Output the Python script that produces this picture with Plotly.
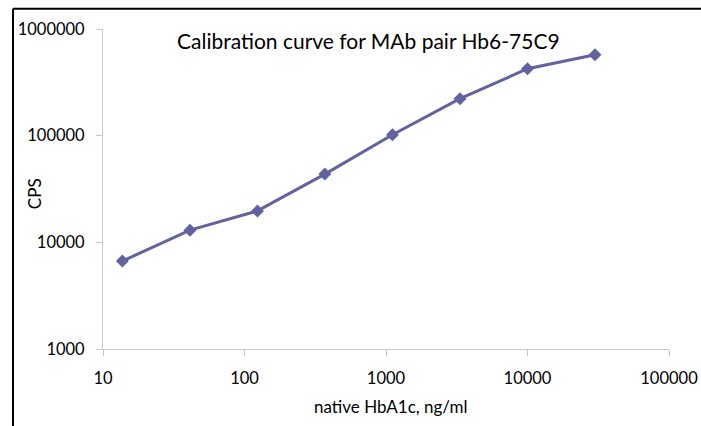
import plotly.graph_objects as go

concentration = [13.7, 41.2, 123.5, 370, 1111, 3333, 10000, 30000]
cps = [6670, 13000, 19700, 43600, 101900, 222000, 424000, 574000]
x_ticks = [10, 100, 1000, 10000, 100000]
y_ticks = [1000, 10000, 100000, 1000000]

OFF = 0  # body margin removed via post_script
W, H = 701 - OFF, 426 - OFF
# plot area in page pixels
PL, PR, PT, PB = 102.7, 668.7, 29.3, 349.0
ml, mr, mt, mb = PL - OFF, W - (PR - OFF), PT - OFF, H - (PB - OFF)
pw, ph = PR - PL, PB - PT

def px_x(p):  # page px -> paper x
    return (p - PL) / pw

def px_y(p):  # page px -> paper y
    return (PB - p) / ph

FONT = "Lato"
line_col = "#6262A0"
axis_col = "#C8C8C8"

fig = go.Figure()
fig.add_trace(go.Scatter(
    x=concentration, y=cps, mode="lines+markers",
    line=dict(color=line_col, width=3),
    marker=dict(symbol="diamond", size=10, color=line_col),
    showlegend=False, hoverinfo="skip",
))

fig.update_layout(
    width=W, height=H,
    margin=dict(l=ml, r=mr, t=mt, b=mb, autoexpand=False),
    paper_bgcolor="white", plot_bgcolor="white",
    font=dict(family=FONT, color="black", size=16.5),
    xaxis=dict(type="log", range=[1, 5], tickvals=x_ticks,
               ticktext=[str(v) for v in x_ticks],
               showgrid=False, zeroline=False, showline=True,
               linecolor=axis_col, linewidth=1, ticks="outside",
               tickcolor=axis_col, ticklen=6, tickwidth=1,
               ticklabelstandoff=8,
               tickfont=dict(size=16.5, family=FONT)),
    yaxis=dict(type="log", range=[3, 6], tickvals=y_ticks,
               ticktext=[str(v) for v in y_ticks],
               showgrid=False, zeroline=False, showline=True,
               linecolor=axis_col, linewidth=1, ticks="outside",
               tickcolor=axis_col, ticklen=6, tickwidth=1,
               ticklabelstandoff=8,
               tickfont=dict(size=16.5, family=FONT)),
    annotations=[
        dict(text="Calibration curve for MAb pair Hb6-75C9",
             xref="paper", yref="paper", x=px_x(368), y=px_y(41),
             xanchor="center", yanchor="middle", showarrow=False,
             font=dict(size=21, family=FONT, color="black")),
        dict(text="native HbA1c, ng/ml",
             xref="paper", yref="paper", x=px_x(391), y=px_y(406),
             xanchor="center", yanchor="middle", showarrow=False,
             font=dict(size=17, family=FONT, color="black")),
        dict(text="CPS", textangle=-90,
             xref="paper", yref="paper", x=px_x(35), y=px_y(194),
             xanchor="center", yanchor="middle", showarrow=False,
             font=dict(size=17, family=FONT, color="black")),
    ],
    shapes=[
        dict(type="line", xref="paper", yref="paper",
             x0=px_x(12.7), x1=px_x(720), y0=px_y(9), y1=px_y(9),
             line=dict(color="black", width=2)),
        dict(type="line", xref="paper", yref="paper",
             x0=px_x(12.7), x1=px_x(12.7), y0=px_y(9), y1=px_y(440),
             line=dict(color="black", width=2)),
    ],
)

fig.write_html(
    "out.html",
    config={"displayModeBar": False},
    post_script="document.body.style.margin='0';document.body.style.overflow='hidden';",
)
